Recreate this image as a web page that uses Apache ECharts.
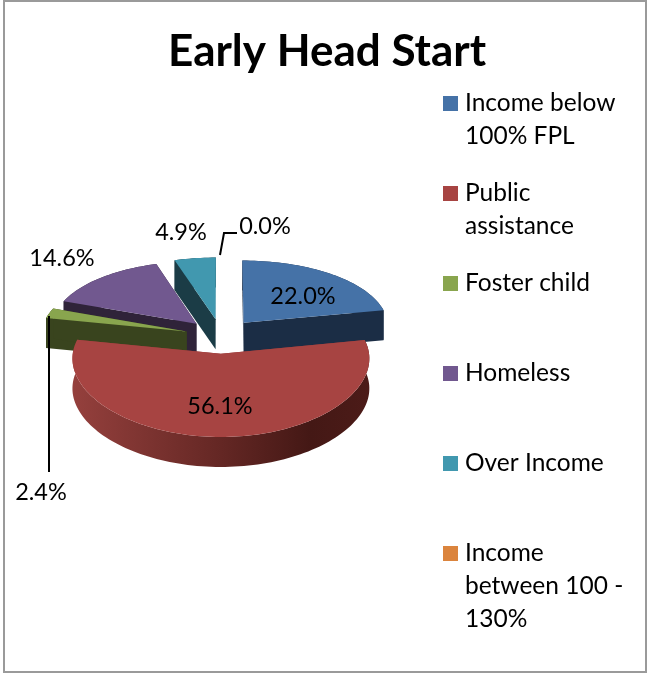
<!DOCTYPE html>
<html>
<head>
<meta charset="utf-8">
<style>
html,body{margin:0;padding:0;background:#fff}
#main{width:648px;height:675px}
</style>
<script src="https://cdn.jsdelivr.net/npm/echarts@6/dist/echarts.min.js"></script>
</head>
<body>
<div id="main"></div>
<script>
var categories = ['Income below\n100% FPL', 'Public\nassistance', 'Foster child', 'Homeless', 'Over Income', 'Income\nbetween 100 -\n130%'];
var shares = [22.0, 56.1, 2.4, 14.6, 4.9, 0.0];
var topColors = ['#4572a7', '#a74442', '#89a54e', '#71588f', '#4198af', '#db843d'];
var wallColors = ['#1b2d45', '#8f3b39', '#39441e', '#2f2339', '#1b3c46', '#6b3f1c'];
// back slices first, the big front one last
var drawOrder = [4, 3, 0, 2, 1, 5];

var FONT = 'Lato';
var cx = 221, cy = 336, radX = 146, radY = 71, perspX = 0.06, perspY = 0.1, depth = 30, explode = 0.245;
var labelPos = [[303, 296], [220, 406], [41, 492], [62, 258], [181, 232], [265, 226]];

var total = shares.reduce(function(a, b){ return a + b }, 0);
var starts = [];
shares.reduce(function(acc, v, i){ starts[i] = acc; return acc + v }, 0);

function project(u, v, z){
    return [cx + radX * u / (1 + perspX * v), cy - radY * v / (1 + perspY * v) + (z || 0)];
}

function renderSlice(i){
    var a0 = starts[i] / total * Math.PI * 2;
    var a1 = (starts[i] + shares[i]) / total * Math.PI * 2;
    var mid = (a0 + a1) / 2;
    var ox = explode * Math.sin(mid), oy = explode * Math.cos(mid);
    var children = [];
    var rim = [], rimLow = [];
    var steps = Math.max(2, Math.ceil((a1 - a0) / 0.03));
    for(var s = 0; s <= steps; s++){
        var a = a0 + (a1 - a0) * s / steps;
        rim.push(project(ox + Math.sin(a), oy + Math.cos(a), 0));
        rimLow.push(project(ox + Math.sin(a), oy + Math.cos(a), depth));
    }
    var apex = project(ox, oy, 0), apexLow = project(ox, oy, depth);
    var first = 0, last = rim.length - 1;
    if(shares[i] > 0){
        var wallFill = wallColors[i];
        if(i === 1){
            wallFill = new echarts.graphic.LinearGradient(72, 0, 370, 0, [
                {offset: 0, color: '#95403d'},
                {offset: 0.5, color: '#642724'},
                {offset: 0.8, color: '#441815'},
                {offset: 1, color: '#4c1b18'}
            ], true);
        }
        children.push({type: 'polygon', z2: 1, shape: {points: rim.concat(rimLow.slice().reverse())}, style: {fill: wallFill}});
        children.push({type: 'polygon', z2: 2, shape: {points: [apex, rim[first], rimLow[first], apexLow]}, style: {fill: wallColors[i]}});
        children.push({type: 'polygon', z2: 2, shape: {points: [apex, rim[last], rimLow[last], apexLow]}, style: {fill: wallColors[i]}});
        children.push({type: 'polygon', z2: 3, shape: {points: [apex].concat(rim)}, style: {fill: topColors[i]}});
    }
    children.push({type: 'text', z2: 50, style: {
        x: labelPos[i][0], y: labelPos[i][1],
        text: shares[i].toFixed(1) + '%',
        font: '23.5px ' + FONT, fill: '#000', align: 'center', verticalAlign: 'middle'
    }});
    return {type: 'group', children: children};
}

// six legends, one per entry, so the markers keep the even pitch of the original.
// blank lines in front push the first text line level with the marker
var legends = categories.map(function(name, i){
    var lines = name.split('\n').length;
    return {
        data: [name],
        orient: 'vertical',
        left: 443,
        top: 103.5 + i * 90 - (2 * lines - 1) * 16.5,
        padding: 0,
        icon: 'rect',
        itemWidth: 15,
        itemHeight: 15,
        itemGap: 0,
        selectedMode: false,
        formatter: function(n){ return new Array(lines).join('\n') + n },
        textStyle: {fontFamily: FONT, fontSize: 24.5, lineHeight: 33, color: '#000', padding: [0, 0, 0, 2]}
    };
});

var series = drawOrder.map(function(i){
    return {
        type: 'custom',
        name: categories[i],
        coordinateSystem: 'none',
        silent: true,
        itemStyle: {color: topColors[i]},
        data: [shares[i]],
        renderItem: function(){ return renderSlice(i) }
    };
});

// the 2.4% and 0.0% labels hang on leader lines
series.push({
    type: 'custom',
    name: 'leaders',
    coordinateSystem: 'none',
    silent: true,
    data: [0],
    renderItem: function(){
        return {type: 'group', children: [
            {type: 'polyline', z2: 60, shape: {points: [[49, 316], [49, 472]]}, style: {stroke: '#000', lineWidth: 2, fill: null}},
            {type: 'polyline', z2: 60, shape: {points: [[220, 255], [224, 233], [237, 233]]}, style: {stroke: '#000', lineWidth: 2, fill: null}}
        ]};
    }
});

var myChart = echarts.init(document.getElementById('main'));
myChart.setOption({
    animation: false,
    backgroundColor: '#fff',
    title: {
        text: 'Early Head Start',
        left: 322,
        top: 25,
        textAlign: 'center',
        textStyle: {fontFamily: FONT, fontSize: 44, fontWeight: 'bold', color: '#000'}
    },
    legend: legends,
    graphic: [{
        type: 'rect',
        z: -1,
        shape: {x: 4, y: 1, width: 642, height: 671},
        style: {fill: null, stroke: '#9a9a9a', lineWidth: 2}
    }],
    series: series
});
</script>
</body>
</html>
